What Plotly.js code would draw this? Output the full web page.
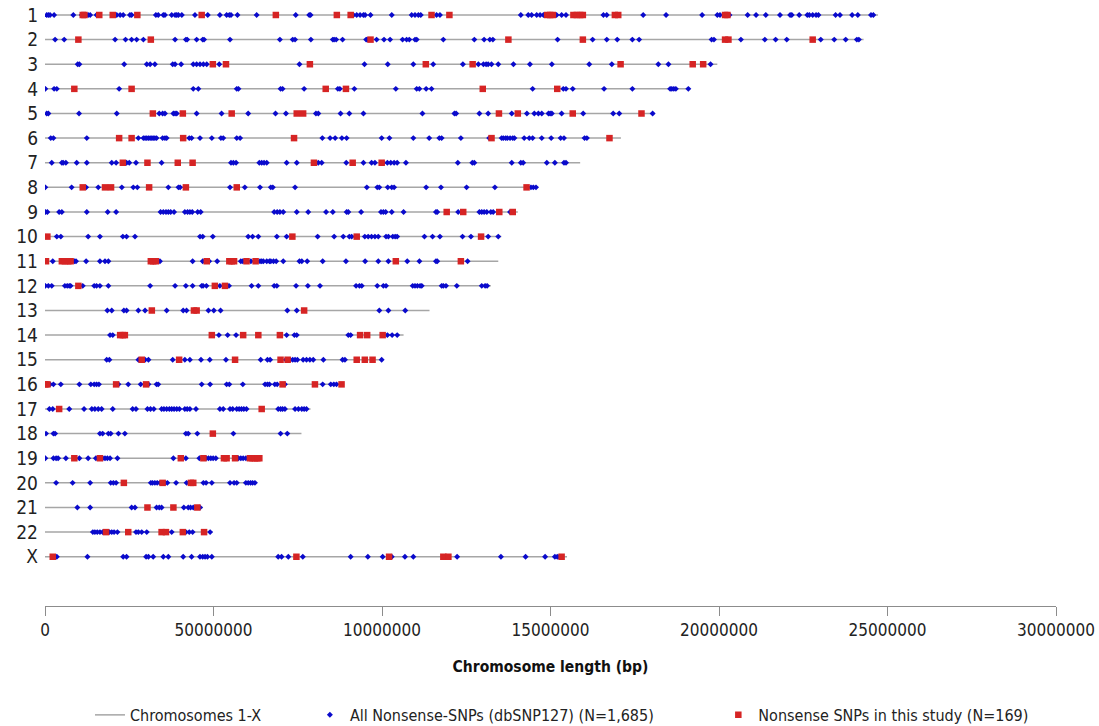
<!DOCTYPE html>
<html>
<head>
<meta charset="utf-8">
<script src="https://cdn.plot.ly/plotly-3.0.1.min.js"></script>
<style>
  html, body { margin: 0; padding: 0; background: #fff; }
  #chart { width: 1099px; height: 726px; }
</style>
</head>
<body>
<div id="chart"></div>
<script>
// ---------------- DATA (positions in Mb) ----------------
const chromLabels = ["1","2","3","4","5","6","7","8","9","10","11","12","13","14","15","16","17","18","19","20","21","22","X"];
const chromLengthMb = [247.2, 242.9, 199.5, 191.3, 180.9, 170.9, 158.8, 146.3, 140.3, 135.4, 134.5, 132.3, 114.1, 106.4, 100.3, 88.8, 78.8, 76.1, 63.8, 62.4, 46.9, 49.7, 154.9];

const tickValuesBp = [0, 50000000, 100000000, 150000000, 200000000, 250000000, 300000000];
const tickLabels = ["0", "50000000", "10000000", "15000000", "20000000", "25000000", "30000000"];

// All nonsense SNPs (dbSNP127)
const all_chr1 = [0.5,1,1.5,2.7,8.4,10.9,11.9,12.8,13.4,15.3,21.3,22.3,23.2,25.2,25.7,32.9,33.6,35.1,35.6,37.6,38.6,39.1,39.6,40.6,44.5,48.3,51.9,53.9,54.7,55.2,57.1,62.8,74.4,78.4,78.8,91.5,92.5,93.5,94.5,95,96.6,102.9,108.8,109.8,110.8,111.5,116.2,117.2,141.2,143.4,144.4,145.9,146.9,147.9,151.8,153.3,154.6,165.7,166.7,177.5,184.3,195,199.5,200.3,203.1,208.5,211,213.9,218.1,221.1,221.6,223.8,226.2,226.8,227.8,228.8,229.5,234.6,235.9,239.5,241.2,245.1,245.8];
const all_chr2 = [3,5.7,20.8,23.9,25.7,27.2,29.2,38.6,41.8,42.2,45,46.8,47.2,54.9,69.7,73.5,74.2,78.9,85.4,85.8,86.4,88.3,95.3,95.6,98.4,100.6,102.4,106.1,107.3,108.1,109.8,110.3,118.2,127.4,130.3,132,132.9,152.1,162.5,166.7,169.8,174.3,176.3,197.8,198.5,206.5,213.6,216.8,220.1,230.2,234.2,237.6,240.9,241.5];
const all_chr3 = [9.7,10.2,23.5,30.2,31.2,32.6,37.9,38.6,40.4,44,45,46,47,48,51.7,75.5,94.8,101.7,109.3,115.2,124,128.6,130.1,130.9,131.5,132.5,134.5,139,143.9,150.4,161.5,168.2,182,185,197.5];
const all_chr4 = [0.1,2.7,3.5,22,44,45.5,56.9,57.4,69.9,70.5,76.9,86.9,87.5,91.8,104.1,110.3,111.1,113.1,114.7,144.7,153.8,154.6,156.6,165.9,174.3,185.5,186,186.6,187.2,190.9];
const all_chr5 = [0.5,1,10.1,21.3,33.9,34.9,35.6,38.1,38.6,39.1,45,52.4,60.3,68.4,71.5,80.4,81.1,87.7,90.3,94.5,112,121.5,122,128.9,131.5,138.5,143,145.2,146.4,147.4,149.4,149.9,150.4,153.3,159.7,168.6,170.4,180.3];
const all_chr6 = [1.7,2.5,12.4,27.7,29.2,29.7,30.2,30.7,31.2,31.7,32.1,32.6,33.1,34.9,35.6,36.1,42.8,43.5,46,49.5,52.2,52.9,56.9,57.9,82.3,84.6,86.1,88.1,89.5,99.9,102.2,109.3,114,117,117.7,123.4,131.8,135.5,136,136.7,137.2,138,138.8,139.3,142.2,143.7,144.7,147.4,150.2,153,154,160.1,160.8];
const all_chr7 = [2,5,5.4,6.2,9.4,12.4,19.8,21.1,24.2,25,27,34.6,55.2,55.9,56.7,63.6,64.3,65,65.8,71.7,74.7,81.1,82.1,89.4,94.5,96.9,97.9,100.4,101.6,102.6,103.6,104.5,107.1,122.5,126.8,127.4,138.5,141.2,141.9,148.9,151.3,154,154.6];
const all_chr8 = [0.1,7.9,12.2,15.8,22.8,26.2,27.4,36.6,39.6,40.1,54.9,59.3,63.8,67,67.6,74.2,95.5,98.6,99.2,101.7,102.9,103.6,113.1,117.5,125.1,133.5,144.2,144.9,145.7];
const all_chr9 = [0.1,0.7,4.2,5,12.4,18.6,21.1,34.3,35.1,35.9,36.6,37.3,38.3,41.5,42.3,43,43.7,45.3,46.2,68,68.9,69.7,70.7,74.7,78.1,83.4,85.4,89.5,90,93.8,99.7,100.4,101.1,102.9,106.4,116,116.4,122.6,128.9,129.6,130.3,131.1,132.3,133,138];
const all_chr10 = [3.5,4.7,12.8,16.3,23.1,24.2,26.7,46,46.8,49.8,60.3,61.6,63.3,68.8,71.7,80.9,85.8,88.5,90.3,91,94.9,95.9,96.9,97.9,98.9,101.2,101.9,103.2,103.9,104.5,112.6,115,117.2,123.9,126.4,131.5,134.5];
const all_chr11 = [2.3,8.7,9.2,12.2,16.3,17.8,18.8,34.1,43.8,46.8,48.7,51.1,58.1,58.7,61.1,63.8,64.3,64.8,65.8,66.6,67,67.8,68.6,70.7,75.5,76.2,77.8,82.4,89.3,95,98.9,101.9,107.5,111.1,116,116.4,125.4];
const all_chr12 = [0.1,1,2,5.9,6.6,7.2,7.6,11.2,14.6,15.3,16.3,18.8,31.2,38.6,41.8,43.8,46.5,46.9,47.9,51.9,54.6,61.3,63.3,68,68.8,74.5,78,81.6,92.3,93.3,94,98.6,100.4,101.2,109.1,109.8,110.5,111.3,111.8,117.7,118.2,119,122.2,129.6,130.6,131.2];
const all_chr13 = [18.5,19.8,23.4,24.2,27.7,29.7,36.1,41,42,48.5,50.1,52.1,71.9,74.7,99.2,101.9,106.9];
const all_chr14 = [19.3,20.1,49.8,51.6,54.2,56.7,71.7,74,74.7,90,90.7,101.6,103,104.5];
const all_chr15 = [18.3,19.1,27.7,28.2,29.7,30.7,37.9,41.5,43,46.3,48.9,53.7,64,66,66.8,71.5,72.7,73.5,74.2,74.9,76.6,77.6,78.6,79.6,82.6,88.3,89,99.9];
const all_chr16 = [1.5,2.5,4.7,10.2,13.6,14.6,15.3,16,21.8,24.7,28.4,30.7,33.1,33.6,46.5,49,53.9,54.7,58.7,65.3,66,66.6,68.2,68.9,71.2,82.4,84.8,85.7,86.5];
const all_chr17 = [1.3,2.3,7.2,11.6,13.9,14.8,15.8,16.8,20.1,26,27,30.4,31.3,32.3,34.6,35.3,36.1,36.9,37.6,38.3,39.1,39.9,41.5,42.2,43,44.8,51.9,52.9,54.9,55.7,56.9,57.6,58.3,59,59.8,69.2,69.9,70.5,71.2,74.2,75.2,76.2,76.9,77.6];
const all_chr18 = [0.3,2.5,3,16.3,17.1,18.8,19.5,21.8,23.7,41.8,42.5,45.2,55.9,69.9,71.9];
const all_chr19 = [0.1,2.5,3.3,3.9,6.2,10.2,12.8,15.1,17.1,17.8,18.5,19.3,21.5,38.1,41.8,45.8,47.8,48.5,49.2,49.9,50.7,57.4,58.1,58.8,59.6];
const all_chr20 = [3.3,8.2,13.4,19.5,20.3,21.1,31.4,31.9,32.6,33.3,34.1,35.6,36.3,38.9,42,42.8,47,47.8,49.5,54.9,56.1,56.9,59.6,60.3,61,61.6,62.3];
const all_chr21 = [9.6,13.4,25.7,26.7,33.1,33.9,34.6,41.2,42.5,43.2,44,46];
const all_chr22 = [14.2,14.8,15.5,16.3,17.1,19.1,19.8,20.5,21.5,27,27.7,28.7,30.2,37.6,41.8,42.8,43.8,49];
const all_chrX = [3.5,12.6,23.2,24.2,30,30.7,32.1,35.1,36.6,41,43.5,46,46.8,47.5,48.2,49.5,69.2,70.2,72.2,76.5,90.7,95.8,100.2,102.9,106.8,109.3,122.3,135.3,142.6,148.4,151.3,152,152.6];

// Nonsense SNPs in this study
const study_chr1 = [11.2,11.7,16.1,20.1,27.4,46.5,68.5,86.6,90.7,114.7,120,149,149.9,150.7,156.8,157.8,158.8,159.6,169.1,170.1,201.8,202.5];
const study_chr2 = [9.9,31.4,96.6,137.5,159.6,201.8,202.8,227.8];
const study_chr3 = [49.8,53.7,78.6,113,126.9,170.8,192.2,195.3];
const study_chr4 = [8.7,25.7,83.3,89.3,129.9,152];
const study_chr5 = [32,40.9,55.4,74.7,76.6,134.7,140.3,156.6,177];
const study_chr6 = [22,25.7,41,73.9,132.5,167.5];
const study_chr7 = [23.1,30.4,39.4,43.8,79.8,91.3,99.9];
const study_chr8 = [11.2,17.8,19.6,30.9,41.8,56.9,142.9];
const study_chr9 = [119.2,124.1,134.8,138.8];
const study_chr10 = [0.7,73.4,92.5,129.4];
const study_chr11 = [0.3,5,5.9,6.9,7.6,31.4,32.1,32.9,48,54.7,55.4,56.1,59.8,62.5,104.1,123.4];
const study_chr12 = [9.9,50.4,53.4];
const study_chr13 = [31.7,44.2,45,76.9];
const study_chr14 = [22.3,23.1,23.7,49.5,58.8,63.3,69.7,93.5,95.6,100.2];
const study_chr15 = [28.7,39.8,56.4,69.9,72,92.5,94.9,97.2];
const study_chr16 = [0.1,0.7,21.1,30,70.5,80.1,88];
const study_chr17 = [4.2,64.3];
const study_chr18 = [49.8];
const study_chr19 = [8.7,16.3,40.3,47,53.1,53.9,56.4,60.8,61.6,62.3,63,63.6];
const study_chr20 = [23.4,34.9,43.3,44];
const study_chr21 = [30.4,38.1,45.2];
const study_chr22 = [18.1,24.7,34.6,35.9,40.9,47.2];
const study_chrX = [2.3,74.6,102.1,118.2,119.7,153.3];

const allSnpsByChrom = [all_chr1,all_chr2,all_chr3,all_chr4,all_chr5,all_chr6,all_chr7,all_chr8,all_chr9,all_chr10,all_chr11,all_chr12,all_chr13,all_chr14,all_chr15,all_chr16,all_chr17,all_chr18,all_chr19,all_chr20,all_chr21,all_chr22,all_chrX];
const studySnpsByChrom = [study_chr1,study_chr2,study_chr3,study_chr4,study_chr5,study_chr6,study_chr7,study_chr8,study_chr9,study_chr10,study_chr11,study_chr12,study_chr13,study_chr14,study_chr15,study_chr16,study_chr17,study_chr18,study_chr19,study_chr20,study_chr21,study_chr22,study_chrX];

// ---------------- BUILD TRACES ----------------
const MB = 1e6;
const lineX = [], lineY = [];
chromLengthMb.forEach((len, i) => {
  lineX.push(0, len * MB, null);
  lineY.push(i + 1, i + 1, null);
});
function flatten(groups) {
  const xs = [], ys = [];
  groups.forEach((arr, i) => arr.forEach(v => { xs.push(v * MB); ys.push(i + 1); }));
  return {xs, ys};
}
const allPts = flatten(allSnpsByChrom);
const studyPts = flatten(studySnpsByChrom);

const FONT = "'Liberation Sans Narrow', 'Arial Narrow', 'DejaVu Sans Condensed', Arial, sans-serif";

const traces = [
  {
    type: 'scatter', mode: 'lines', name: 'Chromosomes 1-X',
    x: lineX, y: lineY,
    line: {color: '#A6A6A6', width: 1.5},
    hoverinfo: 'skip', legend: 'legend'
  },
  {
    type: 'scatter', mode: 'markers', name: 'All Nonsense-SNPs (dbSNP127) (N=1,685)',
    x: allPts.xs, y: allPts.ys,
    marker: {symbol: 'diamond', size: 4.6, color: '#0A0ACC', line: {width: 0}},
    legend: 'legend2'
  },
  {
    type: 'scatter', mode: 'markers', name: 'Nonsense SNPs in this study (N=169)',
    x: studyPts.xs, y: studyPts.ys,
    marker: {symbol: 'square', size: 6.5, color: '#D62424', line: {width: 0}},
    legend: 'legend3'
  }
];

const legendBase = {
  orientation: 'h', yanchor: 'middle', xanchor: 'left',
  yref: 'container', y: 0.0152,
  bgcolor: 'rgba(0,0,0,0)', borderwidth: 0,
  font: {family: FONT, size: 16, color: '#222'}
};

const layout = {
  width: 1099, height: 726,
  margin: {l: 45, r: 43, t: 5, b: 120, pad: 0, autoexpand: false},
  paper_bgcolor: '#ffffff', plot_bgcolor: '#ffffff',
  font: {family: FONT, color: '#222'},
  xaxis: {
    range: [0, 300000000], autorange: false,
    tickmode: 'array', tickvals: tickValuesBp, ticktext: tickLabels,
    showgrid: false, zeroline: false,
    showline: true, linecolor: '#8C8C8C', linewidth: 1,
    ticks: 'outside', ticklen: 9, tickcolor: '#8C8C8C', tickwidth: 1,
    tickfont: {family: FONT, size: 17, color: '#222'},
    title: {text: 'Chromosome length (bp)', font: {family: FONT, size: 15.5, color: '#111', weight: 'bold'}, standoff: 21},
    automargin: false
  },
  yaxis: {
    range: [25, 0.594], autorange: false,
    tickmode: 'array', tickvals: chromLabels.map((_, i) => i + 1), ticktext: chromLabels,
    showgrid: false, zeroline: false, showline: false, ticks: '',
    tickfont: {family: FONT, size: 19, color: '#222'},
    ticklabelstandoff: 6,
    automargin: false
  },
  showlegend: true,
  legend: Object.assign({}, legendBase, {x: 0.0445}),
  legend2: Object.assign({}, legendBase, {x: 0.262}),
  legend3: Object.assign({}, legendBase, {x: 0.666})
};

Plotly.newPlot('chart', traces, layout, {displayModeBar: false, staticPlot: true});
</script>
</body>
</html>
